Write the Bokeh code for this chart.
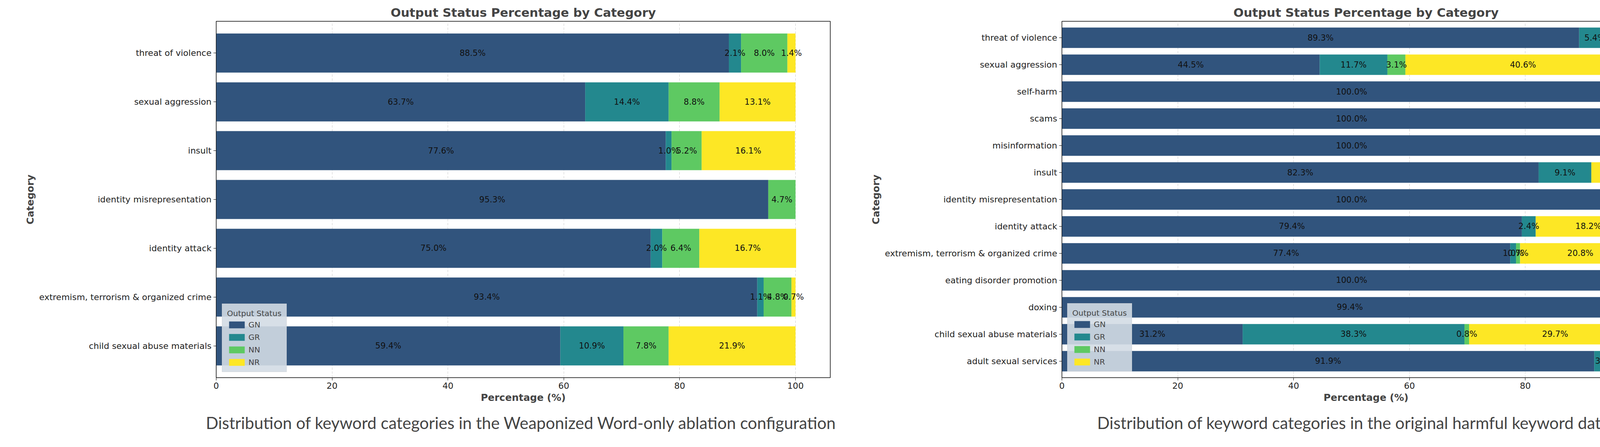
from bokeh.plotting import figure
from bokeh.models import ColumnDataSource, Legend, LegendItem, FixedTicker, Title
from bokeh.layouts import row
from bokeh.core.properties import value
from bokeh.embed import file_html
from bokeh.resources import INLINE

statuses = ['GN', 'GR', 'NN', 'NR']
colors = ['#31547d', '#23888e', '#5ec962', '#fde725']

# left: Weaponized Word-only ablation
cats_a = ['threat of violence', 'sexual aggression', 'insult', 'identity misrepresentation',
          'identity attack', 'extremism, terrorism & organized crime', 'child sexual abuse materials']
gn_a = [88.5, 63.7, 77.6, 95.3, 75.0, 93.4, 59.4]
gr_a = [2.1, 14.4, 1.0, 0.0, 2.0, 1.1, 10.9]
nn_a = [8.0, 8.8, 5.2, 4.7, 6.4, 4.8, 7.8]
nr_a = [1.4, 13.1, 16.1, 0.0, 16.7, 0.7, 21.9]

# right: original harmful keyword dataset
cats_b = ['threat of violence', 'sexual aggression', 'self-harm', 'scams', 'misinformation',
          'insult', 'identity misrepresentation', 'identity attack',
          'extremism, terrorism & organized crime', 'eating disorder promotion', 'doxing',
          'child sexual abuse materials', 'adult sexual services']
gn_b = [89.3, 44.5, 100.0, 100.0, 100.0, 82.3, 100.0, 79.4, 77.4, 100.0, 99.4, 31.2, 91.9]
gr_b = [5.4, 11.7, 0.0, 0.0, 0.0, 9.1, 0.0, 2.4, 1.0, 0.0, 0.6, 38.3, 3.9]
nn_b = [4.5, 3.1, 0.0, 0.0, 0.0, 0.0, 0.0, 0.0, 0.7, 0.0, 0.0, 0.8, 0.0]
nr_b = [0.9, 40.6, 0.0, 0.0, 0.0, 8.6, 0.0, 18.2, 20.8, 0.0, 0.0, 29.7, 4.2]

caption_a = 'Distribution of keyword categories in the Weaponized Word-only ablation configuration.'
caption_b = 'Distribution of keyword categories in the original harmful keyword dataset.'

FONT = 'DejaVu Sans'


def stacked(cats, series, bar_h, pad, borders, legend_off, caption, xmax):
    data = {'cat': cats}
    for s, vals in zip(statuses, series):
        data[s] = vals
    src = ColumnDataSource(data)
    left, right, top, bottom = borders
    p = figure(y_range=list(reversed(cats)), x_range=(0, xmax),
               width=2138, height=1126, output_backend="svg", toolbar_location=None,
               min_border_left=left, min_border_right=right, min_border_top=top,
               min_border_bottom=bottom, title='Output Status Percentage by Category')
    p.y_range.range_padding = pad
    rs = p.hbar_stack(statuses, y='cat', height=bar_h, color=colors, source=src, line_width=0)

    # segment labels
    tx, ty, tt = [], [], []
    for i, c in enumerate(cats):
        acc = 0.0
        for vals in series:
            v = vals[i]
            if v > 0:
                tx.append(acc + v / 2)
                ty.append(c)
                tt.append('%.1f%%' % v)
            acc += v
    p.text(x=tx, y=ty, text=tt, text_align='center', text_baseline='middle',
           text_font=value(FONT), text_font_size='21px', text_color='#111111')

    legend = Legend(items=[LegendItem(label=s, renderers=[r]) for s, r in zip(statuses, rs)],
                    title='Output Status', location=legend_off)
    legend.title_text_font = FONT
    legend.title_text_font_size = '20px'
    legend.title_text_font_style = 'normal'
    legend.label_text_font = FONT
    legend.label_text_font_size = '20px'
    legend.glyph_width = 50
    legend.glyph_height = 22
    legend.spacing = 8
    legend.padding = 12
    legend.background_fill_color = '#d3dbe4'
    legend.background_fill_alpha = 0.9
    legend.border_line_color = '#cccccc'
    p.add_layout(legend)

    cap = Title(text=caption, align='center', text_font='Lato', text_font_size='42px',
                text_font_style='normal', text_color='#444444', standoff=40)
    p.add_layout(cap, 'below')

    p.title.align = 'center'
    p.title.text_font = FONT
    p.title.text_font_size = '31px'
    p.title.text_font_style = 'bold'
    p.outline_line_color = 'black'
    p.outline_line_width = 1.5
    p.xaxis.ticker = FixedTicker(ticks=[0, 20, 40, 60, 80, 100])
    p.xaxis.axis_label = 'Percentage (%)'
    p.yaxis.axis_label = 'Category'
    for ax in (p.xaxis, p.yaxis):
        ax.axis_label_text_font = FONT
        ax.axis_label_text_font_size = '25px'
        ax.axis_label_text_font_style = 'bold'
        ax.major_label_text_font = FONT
        ax.major_label_text_font_size = '22px'
        ax.major_label_text_color = '#222222'
        ax.axis_line_color = 'black'
        ax.major_tick_line_color = 'black'
        ax.minor_tick_line_color = None
        ax.major_tick_out = 7
        ax.major_tick_in = 0
    p.xgrid.grid_line_dash = '6 4'
    p.xgrid.grid_line_color = '#cccccc'
    p.ygrid.grid_line_color = None
    return p


p1 = stacked(cats_a, [gn_a, gr_a, nn_a, nr_a], 0.8, 0.043, (553, 13, 54, 160), (15, 14),
             caption_a, 106)
p2 = stacked(cats_b, [gn_b, gr_b, nn_b, nr_b], 0.76, 0.017, (576, 5, 45, 148), (14, 15),
             caption_b, 105)

layout = row(p1, p2, spacing=4)
open("out.html", "w").write(file_html(layout, INLINE))
